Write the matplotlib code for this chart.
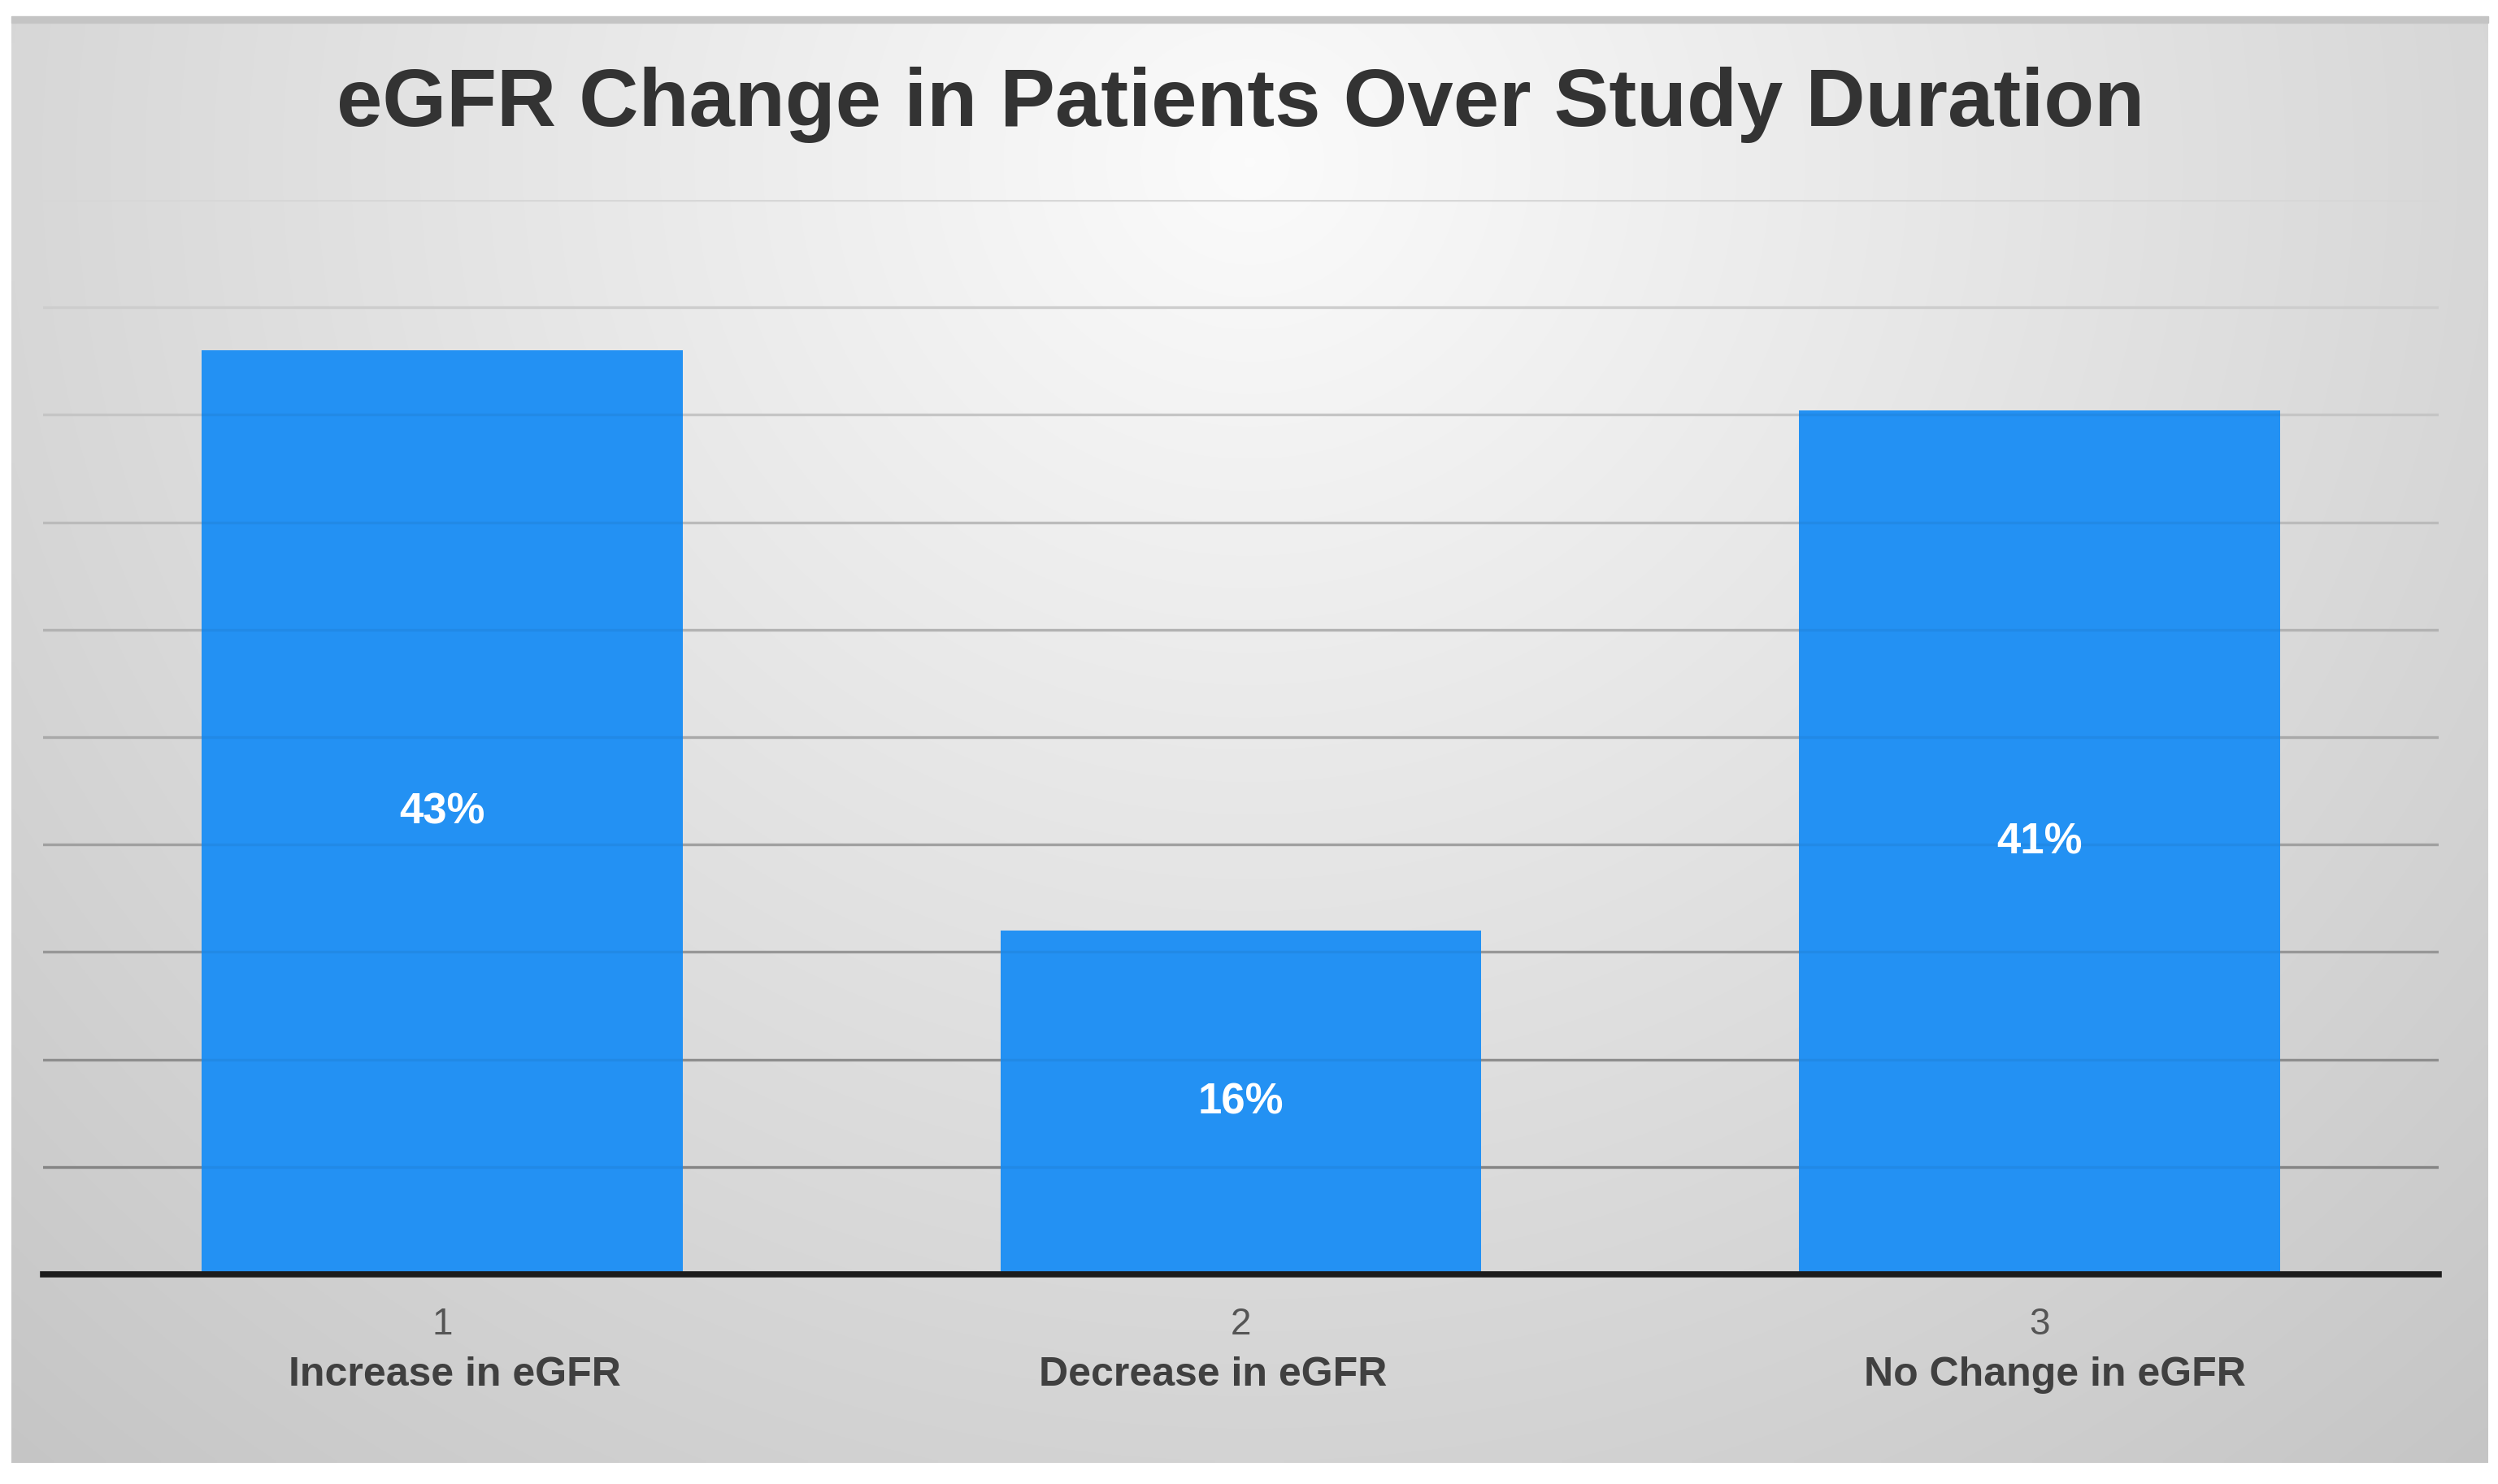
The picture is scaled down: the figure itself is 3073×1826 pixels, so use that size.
import numpy as np
import matplotlib
matplotlib.use("Agg")
import matplotlib.pyplot as plt
from matplotlib.patches import Rectangle

# ---- data ----
positions = [1, 2, 3]
tick_numbers = ["1", "2", "3"]
categories = ["Increase in eGFR", "Decrease in eGFR", "No Change in eGFR"]
values = [43, 16, 40.2]
value_labels = ["43%", "16%", "41%"]
grid_values = [5, 10, 15, 20, 25, 30, 35, 40, 45, 50]
title = "eGFR Change in Patients Over Study Duration"

# layout offsets for category labels (as in the reference)
cat_offsets = [0.016, -0.035, 0.019]

plt.rcParams['font.family'] = ['Liberation Sans', 'DejaVu Sans']

W, H = 3073, 1826
fig = plt.figure(figsize=(W / 100, H / 100), dpi=100, facecolor="white")

# ---- background panel with radial gradient ----
px0, px1, py0, py1 = 14, 3061, 20, 1800
bg = fig.add_axes([px0 / W, 1 - py1 / H, (px1 - px0) / W, (py1 - py0) / H], zorder=0)
gx = np.linspace(0, 1, 400)
gy = np.linspace(0, 1, 300)
X, Y = np.meshgrid(gx, gy)
R = np.sqrt(((X - 0.5) / 0.62) ** 2 + ((Y - 0.10) / 1.0) ** 2)
shade = np.clip(0.985 - 0.175 * R, 0, 1)
img = np.dstack([shade, shade, shade])
bg.imshow(img, aspect="auto", extent=[0, 1, 1, 0], interpolation="bilinear")
bg.set_xlim(0, 1)
bg.set_ylim(1, 0)
bg.axis("off")
# top frame band
band_h = 8 / (py1 - py0)
bg.add_patch(Rectangle((0, 1 - band_h), 1, band_h, color="#c4c4c4", transform=bg.transAxes,
                       clip_on=False))

# ---- main axes ----
ax_left, ax_right = 53, 3000
ax_top, ax_bottom = 246, 1568
ax = fig.add_axes([ax_left / W, 1 - ax_bottom / H, (ax_right - ax_left) / W, (ax_bottom - ax_top) / H],
                  zorder=1)
ax.set_facecolor("none")
ax.set_xlim(0.5, 3.5)
ax.set_ylim(0, 50)

# gridlines: lighter toward the top
for g in grid_values:
    t = (g - 5) / 45
    c = 0.55 + 0.34 * t
    ax.axhline(g, color=(c, c, c), lw=2.4, zorder=1)

bars = ax.bar(positions, values, width=0.602, color="#2391F3", zorder=2)

# faint gridline traces over bars
for g in grid_values:
    ax.axhline(g, color="black", alpha=0.05, lw=2.4, zorder=3)

ax.axhline(0, color="#1c1c1c", lw=5.5, zorder=4, clip_on=False)

for x, v, lab in zip(positions, values, value_labels):
    ax.text(x, v / 2, lab, ha="center", va="center", color="white",
            fontsize=38, fontweight="bold", zorder=5)

for spine in ax.spines.values():
    spine.set_visible(False)
ax.set_xticks([])
ax.set_yticks([])

# tick numbers and category labels
for x, num, cat, off in zip(positions, tick_numbers, categories, cat_offsets):
    ax.annotate(num, xy=(x, 0), xycoords="data", xytext=(0, -62), textcoords="offset pixels",
                ha="center", va="center", fontsize=33, color="#555555", annotation_clip=False)
    ax.annotate(cat, xy=(x + off, 0), xycoords="data", xytext=(0, -124), textcoords="offset pixels",
                ha="center", va="center", fontsize=36, fontweight="bold", color="#404040",
                annotation_clip=False)

fig.text(1526 / W, 1 - 155 / H, title, ha="center", va="baseline", fontsize=73,
         fontweight="bold", color="#333333")

fig.savefig("out.png", dpi=100, facecolor="white")
